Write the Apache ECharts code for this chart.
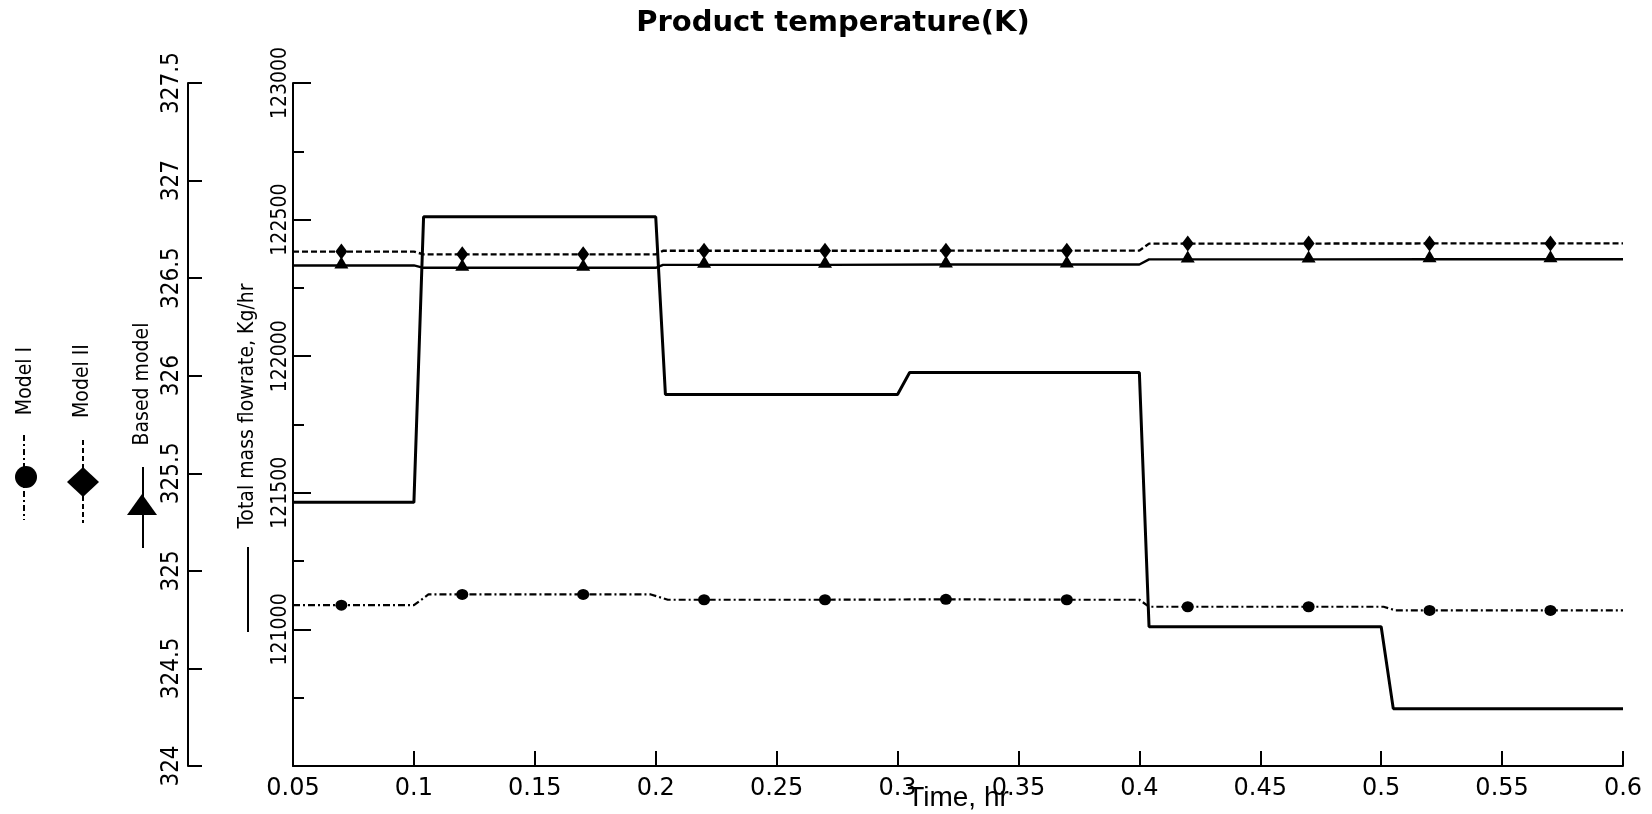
<!DOCTYPE html>
<html>
<head>
<meta charset="utf-8">
<script src="https://cdn.jsdelivr.net/npm/echarts@6/dist/echarts.min.js"></script>
<style>
html, body { margin: 0; padding: 0; background: #fff; overflow: hidden; }
#chart { width: 1652px; height: 814px; }
</style>
</head>
<body>
<div id="chart"></div>
<script>
// Tick labels
const timeTickLabels = ['0.05', '0.1', '0.15', '0.2', '0.25', '0.3', '0.35', '0.4', '0.45', '0.5', '0.55', '0.6'];
const tempTickLabels = ['324', '324.5', '325', '325.5', '326', '326.5', '327', '327.5'];
const flowTickLabels = ['', '121000', '121500', '122000', '122500', '123000'];

// Times (hr) at which the model markers are drawn
const markerTimes = [0.07, 0.12, 0.17, 0.22, 0.27, 0.32, 0.37, 0.42, 0.47, 0.52, 0.57];

// Total mass flowrate, Kg/hr
const flowTime = [0.05, 0.1, 0.104, 0.2, 0.204, 0.3, 0.305, 0.4, 0.404, 0.5, 0.505, 0.6];
const flowRate = [121465, 121465, 122510, 122510, 121860, 121860, 121940, 121940, 121010, 121010, 120710, 120710];

// Model I product temperature (K)
const model1Time = [0.05, 0.07, 0.1, 0.106, 0.12, 0.17, 0.198, 0.205, 0.22, 0.27, 0.32, 0.37, 0.4, 0.404, 0.42, 0.47, 0.501, 0.506, 0.52, 0.57, 0.6];
const model1Temp = [324.824, 324.824, 324.824, 324.879, 324.879, 324.879, 324.879, 324.852, 324.852, 324.852, 324.854, 324.852, 324.852, 324.816, 324.816, 324.816, 324.816, 324.797, 324.797, 324.797, 324.797];

// Model II product temperature (K)
const model2Time = [0.05, 0.07, 0.1, 0.104, 0.12, 0.17, 0.2, 0.203, 0.22, 0.27, 0.32, 0.37, 0.4, 0.404, 0.42, 0.47, 0.52, 0.57, 0.6];
const model2Temp = [326.636, 326.636, 326.636, 326.622, 326.622, 326.622, 326.622, 326.640, 326.640, 326.640, 326.641, 326.641, 326.641, 326.677, 326.677, 326.677, 326.678, 326.678, 326.678];

// Based model product temperature (K)
const baseTime = [0.05, 0.07, 0.1, 0.104, 0.12, 0.17, 0.2, 0.203, 0.22, 0.27, 0.32, 0.37, 0.4, 0.404, 0.42, 0.47, 0.52, 0.57, 0.6];
const baseTemp = [326.565, 326.565, 326.565, 326.553, 326.553, 326.553, 326.553, 326.568, 326.568, 326.568, 326.570, 326.570, 326.570, 326.596, 326.596, 326.596, 326.597, 326.597, 326.597];

const NARROW = "'Liberation Sans Narrow', 'DejaVu Sans Condensed', 'Liberation Sans', sans-serif";
const INK = '#000';

function pairs(xs, ys) { return xs.map((x, i) => [x, ys[i]]); }
function markerAt(shape) {
  return value => markerTimes.some(t => Math.abs(t - value[0]) < 1e-9) ? shape : 'none';
}

const chart = echarts.init(document.getElementById('chart'), null, { renderer: 'canvas' });

function vText(x, y, text, size) {
  return {
    type: 'text', x: x, y: y, rotation: Math.PI / 2,
    style: { text: text, fontSize: size || 21, fontFamily: NARROW, fill: INK, align: 'center', verticalAlign: 'middle' }
  };
}
function vLine(x, y1, y2, dash) {
  return {
    type: 'line', shape: { x1: x, y1: y1, x2: x, y2: y2 },
    style: { stroke: INK, lineWidth: 2, lineDash: dash || null }
  };
}

const option = {
  animation: false,
  backgroundColor: '#fff',
  title: {
    text: 'Product temperature(K)',
    left: 828, top: 4, textAlign: 'center',
    textStyle: { fontFamily: 'DejaVu Sans', fontWeight: 'bold', fontSize: 29, color: INK }
  },
  grid: { left: 293, right: 29, top: 83, bottom: 48, containLabel: false, outerBoundsMode: 'none' },
  xAxis: {
    type: 'value', min: 0.05, max: 0.6, interval: 0.05,
    name: 'Time, hr', nameLocation: 'middle', nameGap: 18, nameMoveOverlap: false,
    nameTextStyle: { fontFamily: 'Liberation Sans', fontSize: 28, color: INK, verticalAlign: 'top' },
    axisLine: { lineStyle: { color: INK, width: 2 } },
    axisTick: { inside: true, length: 15, lineStyle: { color: INK, width: 2 } },
    axisLabel: {
      margin: 11, color: INK, fontFamily: 'DejaVu Sans', fontSize: 24,
      formatter: (v, i) => timeTickLabels[i]
    },
    splitLine: { show: false }
  },
  yAxis: [
    {
      type: 'value', position: 'left', offset: 105,
      min: 324, max: 327.5, interval: 0.5,
      axisLine: { show: true, lineStyle: { color: INK, width: 2 } },
      axisTick: { show: true, inside: true, length: 14, lineStyle: { color: INK, width: 2 } },
      axisLabel: {
        rotate: 90, margin: 4, color: INK, fontFamily: NARROW, fontSize: 24,
        formatter: (v, i) => tempTickLabels[i]
      },
      splitLine: { show: false }
    },
    {
      type: 'value', position: 'left', offset: 0,
      min: 120500, max: 123000, interval: 500,
      axisLine: { show: true, lineStyle: { color: INK, width: 2 } },
      axisTick: { show: true, inside: true, length: 18, lineStyle: { color: INK, width: 2 } },
      minorTick: { show: true, splitNumber: 2, length: 11, lineStyle: { color: INK, width: 2 } },
      axisLabel: {
        rotate: 90, margin: 2, color: INK, fontFamily: NARROW, fontSize: 21,
        formatter: (v, i) => flowTickLabels[i]
      },
      splitLine: { show: false }
    }
  ],
  series: [
    {
      name: 'Total mass flowrate, Kg/hr', type: 'line', yAxisIndex: 1,
      data: pairs(flowTime, flowRate), symbol: 'none',
      lineStyle: { color: INK, width: 3 }
    },
    {
      name: 'Model I', type: 'line', yAxisIndex: 0,
      data: pairs(model1Time, model1Temp),
      symbol: markerAt('circle'), symbolSize: [12, 11], showAllSymbol: true,
      itemStyle: { color: INK },
      lineStyle: { color: INK, width: 2.2, type: [7, 3, 2, 3] }
    },
    {
      name: 'Model II', type: 'line', yAxisIndex: 0,
      data: pairs(model2Time, model2Temp),
      symbol: markerAt('diamond'), symbolSize: [12, 16], showAllSymbol: true,
      itemStyle: { color: INK },
      lineStyle: { color: INK, width: 2.4, type: [6, 3] }
    },
    {
      name: 'Based model', type: 'line', yAxisIndex: 0,
      data: pairs(baseTime, baseTemp),
      symbol: markerAt('triangle'), symbolSize: [14, 12], symbolOffset: [0, -3], showAllSymbol: true,
      itemStyle: { color: INK },
      lineStyle: { color: INK, width: 2.4 }
    }
  ],
  graphic: [
    // Model I key
    vText(26, 381, 'Model I'),
    vLine(24, 435, 520, [6, 3, 2, 3]),
    { type: 'circle', shape: { cx: 26, cy: 477, r: 11 }, style: { fill: INK } },
    // Model II key
    vText(83, 381, 'Model II'),
    vLine(83, 440, 523, [5, 3]),
    { type: 'polygon', shape: { points: [[83, 467], [99, 482], [83, 497], [67, 482]] }, style: { fill: INK } },
    // Based model key
    vText(143, 384, 'Based model'),
    vLine(143, 467, 548),
    { type: 'polygon', shape: { points: [[142, 494], [157, 515], [127, 515]] }, style: { fill: INK } },
    // Flowrate key
    vText(248, 406, 'Total mass flowrate, Kg/hr'),
    vLine(248, 547, 632)
  ]
};

chart.setOption(option);
</script>
</body>
</html>
